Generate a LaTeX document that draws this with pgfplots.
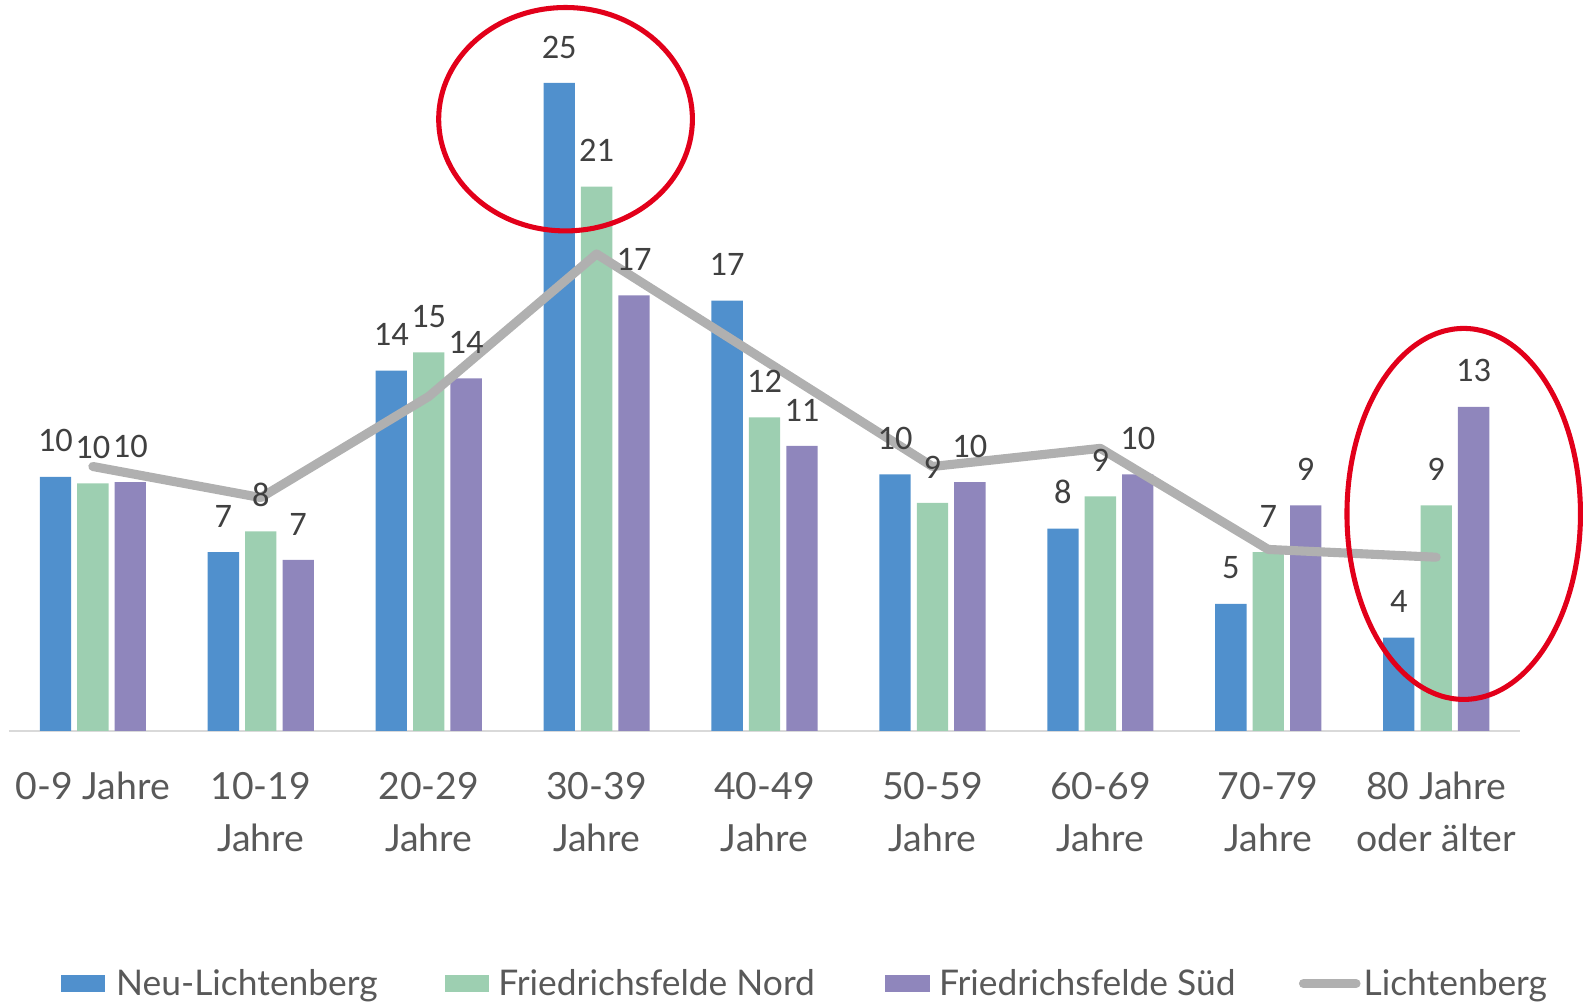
\documentclass[border=0pt]{standalone}
\usepackage{fontspec}
\setmainfont{Lato}
\newfontfamily\labfont{Carlito}
\usepackage{pgfplots}
\usepackage{pgfplotstable}
\pgfplotsset{compat=1.18}

\definecolor{cBlue}{HTML}{5090CD}
\definecolor{cGreen}{HTML}{9DCFB1}
\definecolor{cPurple}{HTML}{8F86BC}
\definecolor{cLine}{HTML}{B0B0B0}
\definecolor{cRed}{HTML}{E2001A}
\definecolor{txtgray}{HTML}{595959}
\definecolor{labgray}{HTML}{404040}

% Anteile in Prozent je Altersgruppe
\pgfplotstableread{
x  nl    fn    fs    li
0  9.8   9.55  9.6   10.2
1  6.9   7.7   6.6   9.0
2  13.9  14.6  13.6  12.9
3  25.0  21.0  16.8  18.4
4  16.6  12.1  11.0  14.3
5  9.9   8.8   9.6   10.2
6  7.8   9.05  9.9   10.9
7  4.9   6.9   8.7   7.0
8  3.6   8.7   12.5  6.7
}\data

\pgfplotsset{
  lab/.style={draw=none, mark=none, forget plot,
    nodes near coords={\pgfmathprintnumber[fixed,precision=0]{\pgfplotspointmeta}},
    every node near coord/.append style={xshift=#1}},
}

\begin{document}
\begin{tikzpicture}
\begin{axis}[
  scale only axis, width=747.5pt, height=361.5pt,
  xmin=-0.5, xmax=8.5, ymin=0, ymax=28.2,
  clip=false,
  axis y line=none, axis x line*=bottom,
  x axis line style={draw=black!15, line width=1pt, -},
  major tick length=0pt,
  xtick={0,...,8},
  xticklabels={0-9 Jahre, 10-19\\Jahre, 20-29\\Jahre, 30-39\\Jahre, 40-49\\Jahre,
    50-59\\Jahre, 60-69\\Jahre, 70-79\\Jahre, 80 Jahre\\oder älter},
  xticklabel style={align=center, text=txtgray, font=\fontsize{18.5}{25.5}\selectfont, yshift=-17pt},
  /pgf/number format/assume math mode=true,
  bar width=15.5pt,
  every node near coord/.append style={font=\labfont\fontsize{17}{17}\selectfont, text=labgray, inner sep=0pt, yshift=12pt},
  legend style={at={(axis cs:-0.192,-9.75)}, anchor=west, draw=none, fill=none,
    inner sep=0pt, outer sep=0pt, nodes={inner sep=0pt}, column sep=0pt,
    font=\fontsize{17.5}{17.5}\selectfont, text=txtgray},
  legend columns=4, legend cell align=left,
]
\addplot[ybar, bar shift=-18.5pt, fill=cBlue, draw=none,
  legend image code/.code={\fill[cBlue] (0pt,-4pt) rectangle (22pt,4pt);}]
  table[x=x, y=nl] {\data};
\addlegendentry{\hspace{5.5pt}\makebox[162.5pt][l]{Neu-Lichtenberg}}
\addplot[ybar, bar shift=0pt, fill=cGreen, draw=none,
  legend image code/.code={\fill[cGreen] (0pt,-4pt) rectangle (22pt,4pt);}]
  table[x=x, y=fn] {\data};
\addlegendentry{\hspace{4.5pt}\makebox[191.5pt][l]{Friedrichsfelde Nord}}
\addplot[ybar, bar shift=18.5pt, fill=cPurple, draw=none,
  legend image code/.code={\fill[cPurple] (0pt,-4pt) rectangle (22pt,4pt);}]
  table[x=x, y=fs] {\data};
\addlegendentry{\hspace{4.5pt}\makebox[178pt][l]{Friedrichsfelde Süd}}
\addplot[sharp plot, draw=cLine, line width=4.5pt, line cap=round, line join=round, mark=none,
  legend image code/.code={\draw[cLine, line width=4.5pt, line cap=round] (0pt,0pt) -- (26pt,0pt);}]
  table[x=x, y=li] {\data};
\addlegendentry{\hspace{1.5pt}Lichtenberg}
% Datenbeschriftungen ueber der Linie
\addplot[lab=-18.5pt] table[x=x, y=nl] {\data};
\addplot[lab=0pt] table[x=x, y=fn] {\data};
\addplot[lab=18.5pt] table[x=x, y=fs] {\data};
% Markierungen
\draw[cRed, line width=2.5pt] (axis cs:2.815,23.6) ellipse [x radius=62.75pt, y radius=55.25pt];
\draw[cRed, line width=2.5pt] (axis cs:8.164,8.37) ellipse [x radius=57.75pt, y radius=91.75pt];
% Seitenrahmen
\path (axis cs:-0.553,-10.57) rectangle (axis cs:8.870,28.2);
\end{axis}
\end{tikzpicture}
\end{document}
